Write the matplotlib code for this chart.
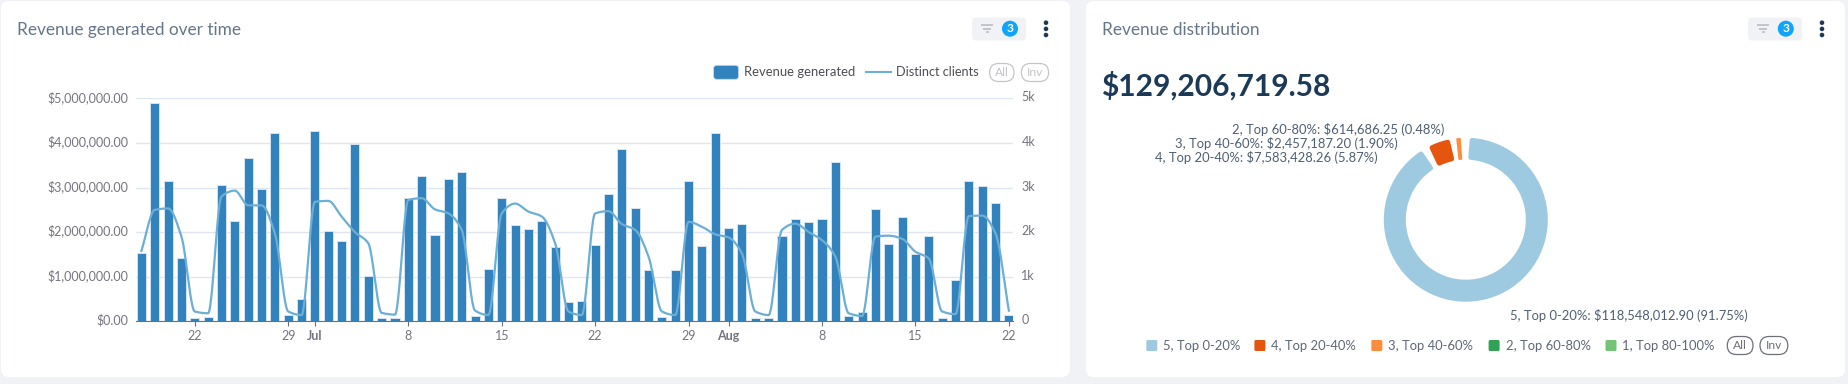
import numpy as np
import matplotlib
matplotlib.use("Agg")
import matplotlib.pyplot as plt
from matplotlib.patches import FancyBboxPatch, Circle
from matplotlib.transforms import ScaledTranslation

plt.rcParams['font.family'] = ['Lato', 'DejaVu Sans']

# one value per day, 18 Jun to 22 Aug
revenue = [1.54, 4.90, 3.14, 1.42, 0.075, 0.10, 3.06, 2.26, 3.66, 2.97, 4.22, 0.14, 0.50,
           4.27, 2.03, 1.81, 3.98, 1.02, 0.07, 0.07, 2.76, 3.25, 1.93, 3.19, 3.35, 0.11, 1.17,
           2.77, 2.17, 2.08, 2.26, 1.66, 0.44, 0.45, 1.72, 2.85, 3.86, 2.53, 1.14, 0.10, 1.14,
           3.14, 1.69, 4.22, 2.09, 2.19, 0.08, 0.08, 1.91, 2.29, 2.22, 2.30, 3.58, 0.13, 0.20,
           2.51, 1.73, 2.34, 1.52, 1.91, 0.07, 0.93, 3.14, 3.03, 2.65, 0.14]
clients = [1580, 2500, 2530, 1900, 220, 180, 2800, 2930, 2600, 2600, 1970, 220, 140,
           2680, 2700, 2350, 2000, 1750, 190, 150, 2720, 2760, 2510, 2420, 2050, 240, 140,
           2420, 2640, 2460, 2350, 1750, 220, 140, 2420, 2470, 2180, 2050, 1450, 220, 140,
           2230, 2120, 1950, 1880, 1520, 220, 140, 2050, 2190, 2000, 1820, 1450, 180, 120,
           1900, 1920, 1850, 1560, 1410, 220, 160, 2360, 2370, 1970, 240]
tick_days = [4, 11, 13, 20, 27, 34, 41, 44, 51, 58, 65]
tick_labels = ['22', '29', 'Jul', '8', '15', '22', '29', 'Aug', '8', '15', '22']
bold_ticks = ['Jul', 'Aug']
left_ticks = [0, 1, 2, 3, 4, 5]
left_labels = ['$0.00', '$1,000,000.00', '$2,000,000.00', '$3,000,000.00', '$4,000,000.00', '$5,000,000.00']
right_labels = ['0', '1k', '2k', '3k', '4k', '5k']

groups = ['5, Top 0-20%', '4, Top 20-40%', '3, Top 40-60%', '2, Top 60-80%', '1, Top 80-100%']
group_values = [118548012.90, 7583428.26, 2457187.20, 614686.25, 3404.97]
group_colors = ['#9ecae1', '#e6550d', '#fd8d3c', '#31a354', '#74c476']
group_labels = ['5, Top 0-20%: $118,548,012.90 (91.75%)', '4, Top 20-40%: $7,583,428.26 (5.87%)',
                '3, Top 40-60%: $2,457,187.20 (1.90%)', '2, Top 60-80%: $614,686.25 (0.48%)']
total_label = '$129,206,719.58'

W, H = 1849, 384
BG = '#f0f2f5'
BAR = '#3182bd'
LINE = '#6baed6'
GREY = '#74747e'
TITLE = '#66768a'
NAVY = '#1c3a57'


def monotone_curve(y, per=24):
    # smooth line through the daily values, like the monotone smoothing of the original
    y = np.asarray(y, float)
    d = np.diff(y)
    m = np.zeros(len(y))
    for i in range(1, len(y) - 1):
        if d[i - 1] * d[i] > 0:
            m[i] = 2 * d[i - 1] * d[i] / (d[i - 1] + d[i])
    m[0], m[-1] = d[0], d[-1]
    xs, ys = [], []
    for i in range(len(d)):
        t = np.linspace(0, 1, per, endpoint=False)
        ys.append((2*t**3 - 3*t**2 + 1) * y[i] + (t**3 - 2*t**2 + t) * m[i]
                  + (-2*t**3 + 3*t**2) * y[i + 1] + (t**3 - t**2) * m[i + 1])
        xs.append(i + t)
    return np.append(np.concatenate(xs), len(y) - 1), np.append(np.concatenate(ys), y[-1])


def box(ax, x0, y0, x1, y1, r, **kw):
    ax.add_patch(FancyBboxPatch((x0, y0), x1 - x0, y1 - y0,
                                boxstyle=f'round,pad=0,rounding_size={r}', **kw))


def px(size):
    return size * 72 / 100


def filter_button(ax, x0, x1, cx, icon_x, dots_x):
    box(ax, x0, 17.5, x1, 40.5, 4, fc=BG, ec='none')
    for i, half in enumerate([6, 4, 1.5]):
        ax.plot([icon_x - half, icon_x + half], [25 + i * 3.6] * 2, color='#bcbcc4', lw=1.2, solid_capstyle='butt')
    ax.add_patch(Circle((cx, 28.7), 8, fc='#0ea5fb', ec='none'))
    ax.text(cx, 28.8, '3', color='white', fontsize=px(12), fontweight='bold', ha='center', va='center')
    for y in [22.7, 28.9, 35]:
        ax.add_patch(Circle((dots_x, y), 2.3, fc=NAVY, ec='none'))


def pill(ax, x0, x1, y0, y1, label, color):
    box(ax, x0, y0, x1, y1, (y1 - y0) / 2, fc='white', ec=color, lw=0.9)
    ax.text((x0 + x1) / 2, (y0 + y1) / 2, label, color=color, fontsize=px(12), ha='center', va='center')


fig = plt.figure(figsize=(W / 100, H / 100), dpi=100, facecolor=BG)

# page layer in pixel coordinates: cards, titles, legends
bg = fig.add_axes([0, 0, 1, 1], zorder=0)
bg.set_xlim(0, W)
bg.set_ylim(H, 0)
bg.axis('off')
box(bg, 1, 1, 1070, 377, 8, fc='white', ec='none')
box(bg, 1086, 1, 1845, 377, 8, fc='white', ec='none')
bg.text(17, 30, 'Revenue generated over time', color=TITLE, fontsize=px(17.2), va='center')
bg.text(1102.5, 30, 'Revenue distribution', color=TITLE, fontsize=px(17.2), va='center')
filter_button(bg, 972, 1026, 1010, 987, 1046)
filter_button(bg, 1748, 1802, 1785.8, 1763, 1822)

box(bg, 713.6, 65.3, 738.6, 79.3, 3, fc=BAR, ec='#c6dbef', lw=0.6)
bg.text(744.3, 72, 'Revenue generated', color='#4d4d57', fontsize=px(13), va='center')
bg.plot([866, 891], [72, 72], color=LINE, lw=1.5)
bg.text(896.4, 72, 'Distinct clients', color='#4d4d57', fontsize=px(12.8), va='center')
pill(bg, 989.6, 1014, 63.5, 81.5, 'All', '#c4c4cc')
pill(bg, 1021.4, 1048.6, 63.5, 81.5, 'Inv', '#c4c4cc')

# bars and line
ax = fig.add_axes([136 / W, 1 - 321.3 / H, 877 / W, 223 / H], zorder=1)
ax.patch.set_alpha(0)
days = np.arange(len(revenue))
ax.bar(days, revenue, width=0.68, color=BAR, edgecolor='#d4e4f2', linewidth=0.7, zorder=2)
ax.set_xlim(-0.405, 65.31)
ax.set_ylim(0, 5)
ax.set_yticks(left_ticks)
ax.set_yticklabels(left_labels)
ax.set_xticks(tick_days)
ax.set_xticklabels(tick_labels)
ax.grid(axis='y', color='#e0e6f1', lw=1, zorder=0)
ax.tick_params(axis='y', length=0, pad=5.5, labelcolor=GREY, labelsize=px(12.5))
ax.tick_params(axis='x', length=3.5, width=0.8, color='#6e7079', pad=2.8, labelcolor=GREY, labelsize=px(12.5))
up = ScaledTranslation(0, 2 / 100, fig.dpi_scale_trans)
for t in ax.get_yticklabels():
    t.set_transform(t.get_transform() + up)
for t in ax.get_xticklabels():
    if t.get_text() in bold_ticks:
        t.set_fontweight('bold')
for s in ['top', 'left', 'right']:
    ax.spines[s].set_visible(False)
ax.spines['bottom'].set_color('#6e7079')
ax.spines['bottom'].set_zorder(4)

ax2 = ax.twinx()
ax2.patch.set_alpha(0)
cx, cy = monotone_curve(clients)
ax2.plot(cx, cy, color=LINE, lw=1.6, zorder=3)
ax2.set_ylim(0, 5000)
ax2.set_yticks([v * 1000 for v in left_ticks])
ax2.set_yticklabels(right_labels)
ax2.tick_params(axis='y', length=0, pad=6, labelcolor=GREY, labelsize=px(12.5))
for t in ax2.get_yticklabels():
    t.set_transform(t.get_transform() + up)
for s in ax2.spines.values():
    s.set_visible(False)

# donut
R = 100
dcx, dcy = 1465.8, 219.7
pie_ax = fig.add_axes([(dcx - R) / W, 1 - (dcy + R) / H, 2 * R / W, 2 * R / H], zorder=1)
wedges, _ = pie_ax.pie(group_values, colors=group_colors, startangle=90, counterclock=False, radius=79.5,
                       wedgeprops=dict(width=17, linewidth=3.6, joinstyle='round'))
for w, c in zip(wedges, group_colors):
    sweep = w.theta2 - w.theta1
    if sweep < 2:
        w.set_visible(False)
        continue
    # thin slices get a thinner rounded stroke, or the padding would eat them
    if sweep < 10:
        pad = 2.5
        w.set_linewidth(1.4)
        w.set_radius(81)
        w.set_width(20)
    else:
        pad = 4.6
    w.set_theta1(w.theta1 + pad)
    w.set_theta2(w.theta2 - pad)
    w.set_edgecolor(c)
pie_ax.set_xlim(-R, R)
pie_ax.set_ylim(-R, R)

bg.text(1101.5, 85.5, total_label, color=NAVY, fontsize=px(30), fontweight='bold', va='center')
label_pos = [(1510, 315), (1155, 157), (1174.8, 143), (1232, 129)]
for (x, y), s in zip(label_pos, group_labels):
    bg.text(x, y, s, color='#4f5f73', fontsize=px(13), va='center')

swatch_x = [1146.3, 1254.4, 1371.3, 1488.6, 1605.5]
for x, name, c in zip(swatch_x, groups, group_colors):
    box(bg, x, 340, x + 11, 351, 1.5, fc=c, ec='none')
    bg.text(x + 17, 345.5, name, color='#5f6873', fontsize=px(13), va='center')
pill(bg, 1727.3, 1753, 336.5, 354.5, 'All', '#6e7079')
pill(bg, 1760, 1787.8, 336.5, 354.5, 'Inv', '#6e7079')

fig.savefig('out.png', dpi=100, facecolor=BG)
